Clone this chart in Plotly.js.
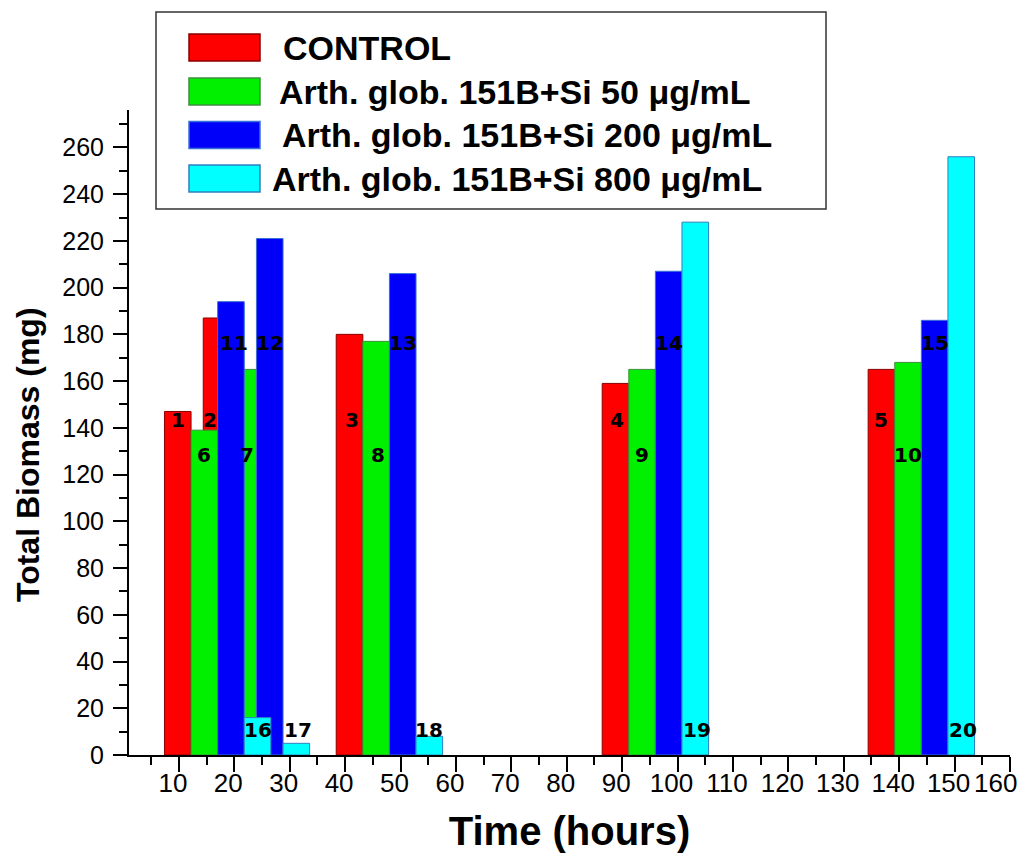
<!DOCTYPE html>
<html>
<head>
<meta charset="utf-8">
<script src="https://cdn.plot.ly/plotly-3.0.1.min.js"></script>
<style>
html,body{margin:0;padding:0;background:#ffffff;}
#chart{width:1023px;height:863px;}
</style>
</head>
<body>
<div id="chart"></div>
<script>
// ---------------- DATA ----------------
const timeHours = [17, 24, 48, 96, 144];
const seriesNames = [
  'CONTROL',
  'Arth. glob. 151B+Si 50 \u03bcg/mL',
  'Arth. glob. 151B+Si 200 \u03bcg/mL',
  'Arth. glob. 151B+Si 800 \u03bcg/mL'
];
const control = [147, 187, 180, 159, 165];
const si50    = [139, 165, 177, 165, 168];
const si200   = [194, 221, 206, 207, 186];
const si800   = [16, 5, 8, 228, 256];
const barLabels = [
  [1, 2, 3, 4, 5],
  [6, 7, 8, 9, 10],
  [11, 12, 13, 14, 15],
  [16, 17, 18, 19, 20]
];
const xTickVals = [10, 20, 30, 40, 50, 60, 70, 80, 90, 100, 110, 120, 130, 140, 150, 160];
const xTickText = ['10','20','30','40','50','60','70','80','90','100','110','120','130','140','150','160'];
const yTickVals = [0, 20, 40, 60, 80, 100, 120, 140, 160, 180, 200, 220, 240, 260];
const yTickText = ['0','20','40','60','80','100','120','140','160','180','200','220','240','260'];
const xTitle = 'Time (hours)';
const yTitle = 'Total Biomass (mg)';

// ---------------- STYLE ----------------
const W = 1023, H = 863;
const M = {l: 129, r: 13, t: 110, b: 108};
const PW = W - M.l - M.r, PH = H - M.t - M.b;
const fills = ['#FF0000', '#00F000', '#0000FA', '#00FFFF'];
const edges = ['#8A0000', '#3E8E3E', '#3A6FD8', '#2F7FBF'];
const barWidth = 4.8;
const barOffset = [-9.6, -4.8, 0, 4.8];
const labelLevel = [143.5, 128.5, 176.5, 10.5];   // vertical placement of number labels per series
const labelNudge = {2: -7, 7: 4, 11: 3, 3: 2, 8: 2, 4: 2, 19: 2, 20: 2, 17: 2};  // px
const FONT = 'Liberation Sans, Arial, Helvetica, sans-serif';
const LBLFONT = 'DejaVu Sans, Verdana, sans-serif';

const seriesValues = [control, si50, si200, si800];

const traces = seriesValues.map((vals, i) => ({
  type: 'bar',
  name: seriesNames[i],
  x: timeHours,
  y: vals,
  width: barWidth,
  offset: barOffset[i],
  marker: {color: fills[i], line: {color: edges[i], width: 1}},
  showlegend: false,
  hoverinfo: 'x+y'
}));

const annotations = [];
seriesValues.forEach((vals, i) => {
  vals.forEach((v, j) => {
    const lab = barLabels[i][j];
    annotations.push({
      x: timeHours[j] + barOffset[i] + barWidth / 2,
      y: labelLevel[i],
      xref: 'x', yref: 'y',
      text: String(lab),
      showarrow: false,
      xanchor: 'center', yanchor: 'middle',
      xshift: labelNudge[lab] || 0,
      font: {family: LBLFONT, size: 20, color: '#000000', weight: 'bold'}
    });
  });
});

// last x tick label sits inside the figure edge in the reference
const lastIdx = xTickVals.length - 1;
annotations.push({
  x: xTickVals[lastIdx], y: 0, xref: 'x', yref: 'paper',
  text: xTickText[lastIdx], showarrow: false,
  xanchor: 'center', yanchor: 'top', xshift: -15, yshift: -11,
  font: {family: FONT, size: 26, color: '#000000'}
});
const tickTextShown = xTickText.map((t, i) => i === lastIdx ? '' : t);

// y axis title (placed as in the reference)
const px2x = px => (px - M.l) / PW;
const px2y = py => (H - M.b - py) / PH;
annotations.push({
  xref: 'paper', yref: 'paper', x: px2x(28), y: px2y(455),
  xanchor: 'center', yanchor: 'middle', textangle: -90,
  text: yTitle, showarrow: false,
  font: {family: FONT, size: 32, color: '#000000', weight: 'bold'}
});

// legend drawn as shapes + text (large swatches as in the reference)
const shapes = [];
shapes.push({
  type: 'rect', xref: 'paper', yref: 'paper',
  x0: px2x(156), x1: px2x(826), y0: px2y(209), y1: px2y(12),
  line: {color: '#333333', width: 1.5}, fillcolor: 'rgba(0,0,0,0)'
});
const legTop = [34, 78, 121.5, 165];
const legTextX = [281, 277, 280, 270];
seriesNames.forEach((nm, i) => {
  shapes.push({
    type: 'rect', xref: 'paper', yref: 'paper',
    x0: px2x(189), x1: px2x(260), y0: px2y(legTop[i] + 27), y1: px2y(legTop[i]),
    line: {color: edges[i], width: 1.5}, fillcolor: fills[i]
  });
  annotations.push({
    xref: 'paper', yref: 'paper',
    x: px2x(legTextX[i]), y: px2y(legTop[i] + 13.5),
    xanchor: 'left', yanchor: 'middle',
    text: nm, showarrow: false,
    font: {family: FONT, size: 34, color: '#000000', weight: 'bold'}
  });
});

const layout = {
  width: W, height: H,
  margin: M,
  paper_bgcolor: '#ffffff', plot_bgcolor: '#ffffff',
  barmode: 'overlay',
  showlegend: false,
  font: {family: FONT, color: '#000000'},
  xaxis: {
    range: [1, 160],
    tickmode: 'array', tickvals: xTickVals, ticktext: tickTextShown,
    ticks: 'outside', ticklen: 15, tickwidth: 2, tickcolor: '#000000',
    ticklabelstandoff: -11, ticklabelshift: -6,
    minor: {tickmode: 'linear', tick0: 0, dtick: 5, ticks: 'outside', ticklen: 8, tickwidth: 2, tickcolor: '#000000', showgrid: false},
    showline: true, linewidth: 2, linecolor: '#000000',
    showgrid: false, zeroline: false,
    tickfont: {family: FONT, size: 26, color: '#000000'},
    title: {text: xTitle, font: {family: FONT, size: 40, color: '#000000', weight: 'bold'}, standoff: 20},
    automargin: false, fixedrange: true
  },
  yaxis: {
    range: [0, 276],
    tickmode: 'array', tickvals: yTickVals, ticktext: yTickText,
    ticks: 'outside', ticklen: 14, tickwidth: 2, tickcolor: '#000000',
    ticklabelstandoff: 4,
    minor: {tickmode: 'linear', tick0: 0, dtick: 10, ticks: 'outside', ticklen: 8, tickwidth: 2, tickcolor: '#000000', showgrid: false},
    showline: true, linewidth: 2, linecolor: '#000000',
    showgrid: false, zeroline: false,
    tickfont: {family: FONT, size: 25, color: '#000000'},
    automargin: false, fixedrange: true
  },
  shapes: shapes,
  annotations: annotations
};

Plotly.newPlot('chart', traces, layout, {displayModeBar: false, staticPlot: true});
</script>
</body>
</html>
